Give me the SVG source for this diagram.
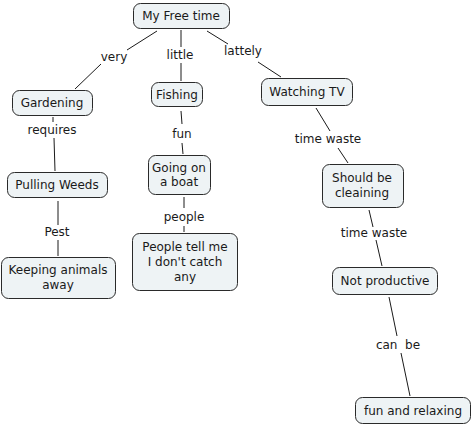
<svg xmlns="http://www.w3.org/2000/svg" width="473" height="425" viewBox="0 0 473 425">
<style>
.n rect{fill:#eef3f5;stroke:#2a2a2a;stroke-width:1}
text{font-family:"DejaVu Sans",Verdana,sans-serif;font-size:12px;fill:#1a1a1a;text-anchor:middle}
#edges line{stroke:#1a1a1a;stroke-width:1}
</style>
<rect width="473" height="425" fill="#fff"/>
<g id="edges">
<line x1="157" y1="31" x2="127" y2="50"/><line x1="101" y1="64" x2="75" y2="89"/>
<line x1="181" y1="30" x2="181" y2="47"/><line x1="181" y1="63" x2="181" y2="81"/>
<line x1="207" y1="31" x2="228" y2="44"/><line x1="258" y1="62" x2="281" y2="77"/>
<line x1="53" y1="117" x2="53" y2="122"/><line x1="54" y1="138" x2="55" y2="171"/>
<line x1="181" y1="111" x2="182" y2="124"/><line x1="182" y1="143" x2="183" y2="154"/>
<line x1="316" y1="108" x2="330" y2="131"/><line x1="338" y1="148" x2="348" y2="163"/>
<line x1="58" y1="201" x2="58" y2="225"/><line x1="58" y1="240" x2="58" y2="256"/>
<line x1="184" y1="197" x2="184" y2="208"/><line x1="184" y1="226" x2="184" y2="232"/>
<line x1="369" y1="210" x2="373" y2="227"/><line x1="376" y1="240" x2="382" y2="266"/>
<line x1="389" y1="297" x2="397" y2="336"/><line x1="401" y1="353" x2="410" y2="396"/>
</g>
<g id="labels">
<text x="114" y="61">very</text>
<text x="180" y="59">little</text>
<text x="243" y="55">lattely</text>
<text x="52" y="134">requires</text>
<text x="182" y="138">fun</text>
<text x="328" y="143">time waste</text>
<text x="57" y="236">Pest</text>
<text x="184" y="221">people</text>
<text x="374" y="237">time waste</text>
<text x="398" y="349" xml:space="preserve">can  be</text>
</g>
<g id="n1" class="n"><rect x="133.5" y="3.5" width="96" height="25" rx="7"/><text x="181" y="20">My Free time</text></g>
<g id="n2" class="n"><rect x="12.5" y="90.5" width="80" height="25" rx="7"/><text x="52" y="107">Gardening</text></g>
<g id="n3" class="n"><rect x="151.5" y="82.5" width="51" height="24" rx="7"/><text x="177" y="99">Fishing</text></g>
<g id="n4" class="n"><rect x="261.5" y="78.5" width="91" height="27" rx="7"/><text x="307" y="96">Watching TV</text></g>
<g id="n5" class="n"><rect x="7.5" y="172.5" width="100" height="25" rx="7"/><text x="57" y="189">Pulling Weeds</text></g>
<g id="n6" class="n"><rect x="148.5" y="155.5" width="62" height="39" rx="7"/><text x="179" y="172">Going on</text><text x="179" y="186">a boat</text></g>
<g id="n7" class="n"><rect x="1.5" y="257.5" width="114" height="41" rx="7"/><text x="58" y="274">Keeping animals</text><text x="58" y="289">away</text></g>
<g id="n8" class="n"><rect x="132.5" y="233.5" width="105" height="57" rx="7"/><text x="185" y="251">People tell me</text><text x="185" y="266">I don't catch</text><text x="185" y="281">any</text></g>
<g id="n9" class="n"><rect x="322.5" y="164.5" width="81" height="43" rx="7"/><text x="362" y="182">Should be</text><text x="362" y="197">cleaining</text></g>
<g id="n10" class="n"><rect x="332.5" y="267.5" width="105" height="27" rx="7"/><text x="385" y="285">Not productive</text></g>
<g id="n11" class="n"><rect x="355.5" y="397.5" width="115" height="26" rx="7"/><text x="413" y="415">fun and relaxing</text></g>
</svg>
